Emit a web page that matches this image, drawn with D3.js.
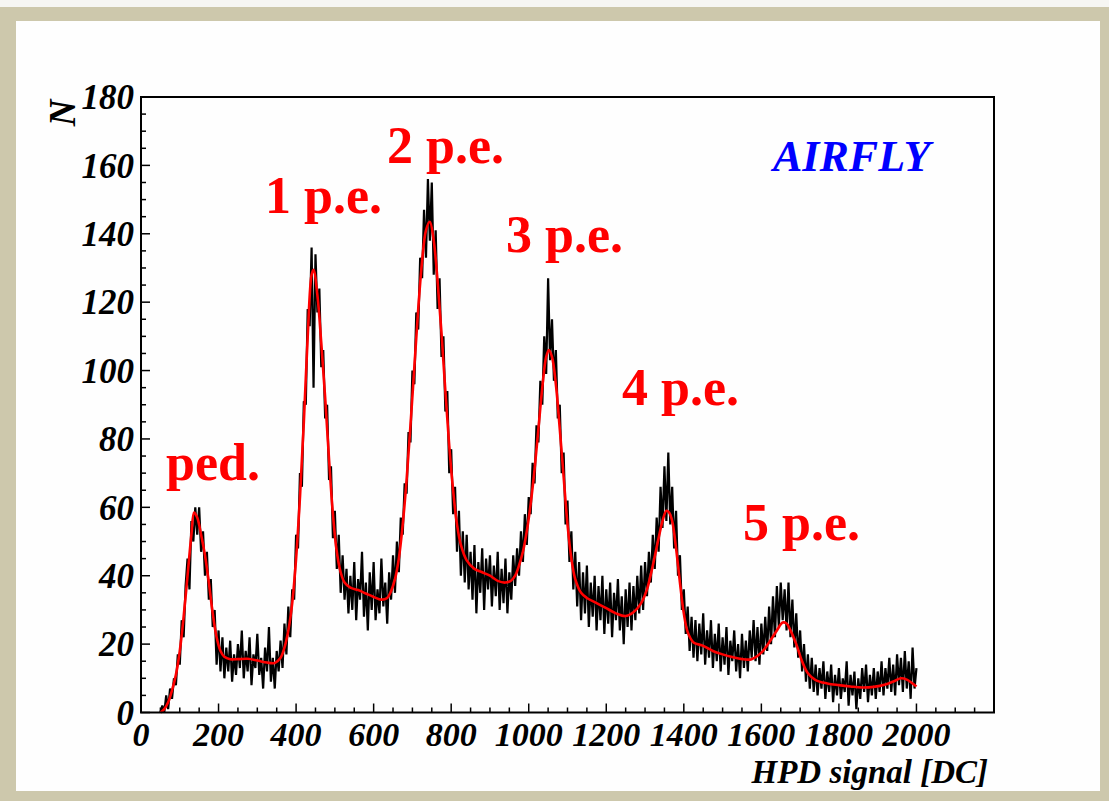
<!DOCTYPE html>
<html><head><meta charset="utf-8">
<script src="https://cdn.jsdelivr.net/npm/d3@7"></script>
<style>html,body{margin:0;padding:0;background:#fff;} svg{display:block}</style>
</head><body><svg id="c" width="1109" height="801"></svg>
<script>
// ---------- data ----------
const binStart = 50, binWidth = 5;   // histogram bins [DC]
const counts = [
0,2,0,5,1,7,4,10,8,17,
14,27,22,37,45,36,56,50,60,52,
60,47,53,40,47,33,39,25,30,14,
24,12,22,10,19,12,21,9,17,11,
20,13,24,10,18,12,22,8,17,13,
23,11,16,7,19,12,25,9,16,7,
18,12,21,13,26,17,31,22,36,33,
52,48,70,66,91,90,118,113,136,95,
134,117,124,101,106,86,90,68,72,51,
59,42,52,35,46,33,42,29,40,30,
44,27,39,33,47,28,38,24,41,30,
44,27,36,29,45,31,38,26,41,33,
46,35,50,41,57,52,67,64,82,79,
100,96,117,112,133,127,147,133,156,138,
155,128,141,118,127,104,110,88,94,70,
77,58,66,47,59,40,53,38,52,36,
47,33,49,29,44,35,48,30,45,36,
46,31,43,34,47,30,42,32,45,29,
41,33,46,37,48,40,53,44,58,49,
63,58,73,67,84,79,97,90,110,99,
127,103,115,97,106,86,90,70,76,55,
62,44,53,36,47,31,44,27,41,29,
43,25,38,28,40,24,37,27,40,23,
36,26,38,22,35,27,39,24,34,20,
36,25,38,24,37,27,40,29,43,30,
44,34,47,38,52,42,57,47,66,54,
72,56,76,55,66,48,59,40,46,30,
36,23,31,18,28,16,27,15,26,17,
29,14,24,16,27,13,23,15,26,12,
22,14,25,11,21,15,24,12,20,10,
23,13,21,12,24,16,27,15,25,14,
26,17,28,18,31,20,34,22,37,25,
38,27,36,24,38,22,33,19,29,16,
24,12,20,9,17,7,16,6,14,5,
13,7,15,4,12,6,14,3,11,5,
13,4,10,6,15,2,11,5,12,1,
10,4,13,6,14,3,11,5,13,4,
12,6,15,5,13,7,16,6,14,5,
17,8,16,6,18,7,15,4,19,7,
13
];

const fitX = [50,60,70,80,90,100,110,120,130,137,145,155,165,175,185,195,205,215,230,250,275,300,325,345,360,370,380,390,400,410,420,430,440,445,455,465,475,485,495,505,515,525,540,560,580,600,620,635,645,655,665,675,685,695,705,715,725,735,745,755,765,775,785,795,805,815,825,840,860,880,900,920,940,955,965,975,985,995,1005,1015,1025,1035,1045,1052,1060,1070,1080,1090,1100,1110,1120,1135,1150,1175,1200,1225,1250,1270,1290,1305,1320,1335,1345,1355,1362,1370,1380,1390,1400,1410,1425,1450,1475,1500,1525,1550,1575,1600,1620,1640,1655,1665,1675,1690,1705,1720,1740,1770,1800,1830,1860,1890,1920,1945,1960,1975,1990,2000];
const fitY = [0,1,3,6.5,11,18,28,40,52,58.5,57,52,46,38,29,22,18,16.3,15.6,15.6,15.7,15.2,14.6,14.5,16,19,24,32,45,63,85,110,128,129.5,122,108,92,74,58,47,41,38,36.5,35.8,34.8,33.8,33,33.5,35.5,39,45,55,68,84,101,118,132,141,143.5,138,126,111,94,78,65,55,49,44.5,42,41,40,38.5,38,38.6,40,43,47,53,61,71,83,95,104,106,104,96,83,69,55,45,39,35,33.5,32,30.5,29,28.2,29.3,32,36,43,51,56,59,58.5,56,48,38,29,23.5,20.5,19.5,18,17,16.2,15.6,15.6,17.5,20.5,24,26.3,26,24,20,15,11.5,9.5,8.5,8,7.6,7.3,7.5,8.2,9.3,10,9.6,8.5,7.6];

const xTickLabels = [0,200,400,600,800,1000,1200,1400,1600,1800,2000];
const yTickLabels = [0,20,40,60,80,100,120,140,160,180];

const peakLabels = ["ped.","1 p.e.","2 p.e.","3 p.e.","4 p.e.","5 p.e."];
const peakLabelPos = [[166,480],[265,213],[387,163],[506,252],[622,405],[743,540]]; // px anchor (left, baseline)

// ---------- drawing ----------
const svg = d3.select("#c");
const W = 1109, H = 801;
const beige = "#cdc8ac";

// page frame
svg.append("rect").attr("x",0).attr("y",0).attr("width",W).attr("height",H).attr("fill","#f6f6f3");
svg.append("rect").attr("x",0).attr("y",7).attr("width",W).attr("height",H-7).attr("fill",beige);
svg.append("rect").attr("x",16).attr("y",21).attr("width",1100-16).attr("height",791-21).attr("fill","#fefefe");

const x = d3.scaleLinear().domain([0,2200]).range([141,994]);
const y = d3.scaleLinear().domain([0,180]).range([712.5,97]);

const serif = "'Liberation Serif','Times New Roman',serif";

// ticks
const g = svg.append("g");
d3.range(0,2200,50).forEach(v=>{
  const major = v % 200 === 0;
  g.append("line").attr("x1",x(v)).attr("x2",x(v)).attr("y1",y(0)).attr("y2",y(0)-(major?9:5))
   .attr("stroke","#000").attr("stroke-width",1.5);
});
d3.range(0,180,5).forEach(v=>{
  const major = v % 20 === 0;
  g.append("line").attr("x1",x(0)).attr("x2",x(0)+(major?9:5)).attr("y1",y(v)).attr("y2",y(v))
   .attr("stroke","#000").attr("stroke-width",1.5);
});

// tick labels
svg.append("g").selectAll("text").data(xTickLabels).join("text")
  .attr("x",d=>x(d)).attr("y",746).attr("text-anchor","middle")
  .attr("font-family",serif).attr("font-weight","bold").attr("font-style","italic")
  .attr("font-size",34).text(d=>d);
svg.append("g").selectAll("text").data(yTickLabels).join("text")
  .attr("x",134).attr("y",d=>y(d)).attr("dy","0.35em").attr("text-anchor","end")
  .attr("font-family",serif).attr("font-weight","bold").attr("font-style","italic")
  .attr("font-size",35).text(d=>d);

// axis titles
svg.append("text").attr("transform","translate(75,113) rotate(-90)").attr("text-anchor","middle")
  .attr("font-family",serif).attr("font-weight","bold").attr("font-style","italic")
  .attr("font-size",37).text("N");
svg.append("text").attr("x",988).attr("y",783).attr("text-anchor","end")
  .attr("font-family",serif).attr("font-weight","bold").attr("font-style","italic")
  .attr("font-size",33).text("HPD signal [DC]");

// histogram
const hist = counts.map((c,i)=>[binStart + i*binWidth, c]);
svg.append("path").datum(hist)
  .attr("d", d3.line().x(d=>x(d[0])).y(d=>y(d[1])).curve(d3.curveLinear))
  .attr("fill","none").attr("stroke","#000").attr("stroke-width",2.2).attr("stroke-linejoin","bevel");

// fit
const fit = fitX.map((v,i)=>[v, fitY[i]]);
svg.append("path").datum(fit)
  .attr("d", d3.line().x(d=>x(d[0])).y(d=>y(d[1])).curve(d3.curveCatmullRom.alpha(0.5)))
  .attr("fill","none").attr("stroke","#ff0000").attr("stroke-width",2.6);

// frame
svg.append("rect").attr("x",x(0)).attr("y",y(180)).attr("width",x(2200)-x(0)).attr("height",y(0)-y(180))
  .attr("fill","none").attr("stroke","#000").attr("stroke-width",2);

// peak labels
svg.append("g").selectAll("text").data(peakLabels).join("text")
  .attr("x",(d,i)=>peakLabelPos[i][0]).attr("y",(d,i)=>peakLabelPos[i][1])
  .attr("font-family",serif).attr("font-weight","bold").attr("font-size",52)
  .attr("fill","#ff0000").text(d=>d);

svg.append("text").attr("x",773).attr("y",171)
  .attr("font-family",serif).attr("font-weight","bold").attr("font-style","italic")
  .attr("font-size",44).attr("fill","#0000ff").text("AIRFLY");
</script>
</body></html>
